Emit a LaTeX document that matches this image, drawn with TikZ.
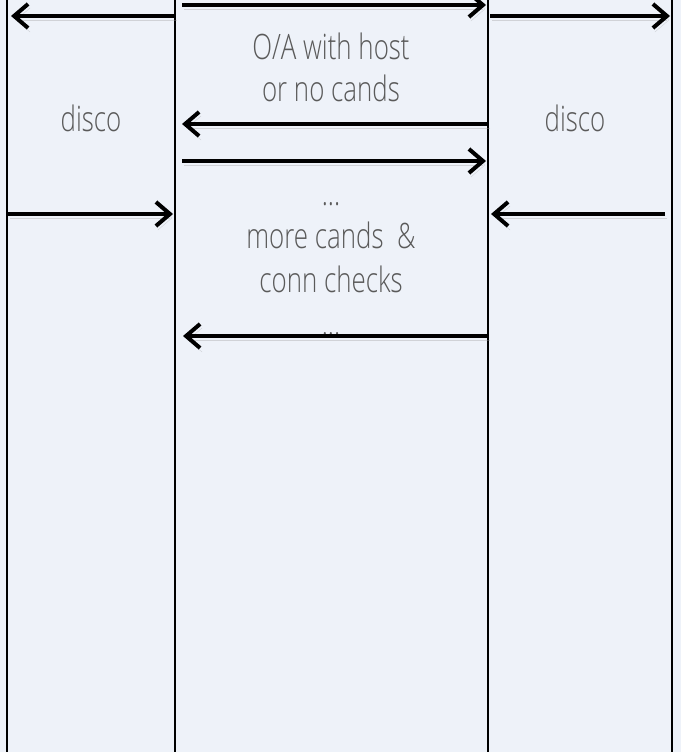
\documentclass[tikz,border=0pt]{standalone}
\usepackage{fontspec}
\setmainfont[FakeStretch=0.74, UprightFont=* Light]{Open Sans}
\usetikzlibrary{arrows.meta}
\definecolor{bgblue}{HTML}{EEF2F9}
\definecolor{txtgray}{HTML}{5A5A5A}
\begin{document}
\begin{tikzpicture}[x=1pt,y=-1pt,
  lbl/.style={text=txtgray, font=\fontsize{35}{42}\selectfont, align=center, inner sep=0pt},
  msg/.style={line width=4pt, -{Straight Barb[length=14pt,width=24pt,line width=4pt]},
    preaction={draw=black!40, opacity=0.35, transform canvas={shift={(2pt,-4pt)}}}},
  life/.style={line width=2.8pt}]
\fill[bgblue] (0,0) rectangle (681,752);
\useasboundingbox (0,0) rectangle (681,752);

% lifelines
\coordinate (l1t) at (7,0);   \coordinate (l1b) at (7,752);
\coordinate (l2t) at (175,0); \coordinate (l2b) at (175,752);
\coordinate (l3t) at (488,0); \coordinate (l3b) at (488,752);
\coordinate (l4t) at (672,0); \coordinate (l4b) at (672,752);
\draw[life] (l1t) -- (l1b);
\draw[life] (l2t) -- (l2b);
\draw[life] (l3t) -- (l3b);
\draw[life] (l4t) -- (l4b);

% message ends
\coordinate (a1) at (175,16);  \coordinate (b1) at (11,16);
\coordinate (a2) at (182,5);   \coordinate (b2) at (486,5);
\coordinate (a3) at (490,16);  \coordinate (b3) at (670,16);
\coordinate (a4) at (488,124); \coordinate (b4) at (182,124);
\coordinate (a5) at (182,161); \coordinate (b5) at (486,161);
\coordinate (a6) at (8,214);   \coordinate (b6) at (173,214);
\coordinate (a7) at (665,214); \coordinate (b7) at (491,214);
\coordinate (a8) at (488,336); \coordinate (b8) at (183,336);

% texts
\node[lbl] (offer) at (331,67) {O/A with host\\or no cands};
\node[lbl] (discoL) at (91,118) {disco};
\node[lbl] (discoR) at (575,118) {disco};
\node[lbl, font=\fontsize{35}{43.5}\selectfont] (cands) at (331,269) {...\\more cands\ \ \&\\conn checks\\...};

% messages
\draw[msg] (a1) -- (b1);
\draw[msg] (a2) -- (b2);
\draw[msg] (a3) -- (b3);
\draw[msg] (a4) -- (b4);
\draw[msg] (a5) -- (b5);
\draw[msg] (a6) -- (b6);
\draw[msg] (a7) -- (b7);
\draw[msg] (a8) -- (b8);
\end{tikzpicture}
\end{document}
